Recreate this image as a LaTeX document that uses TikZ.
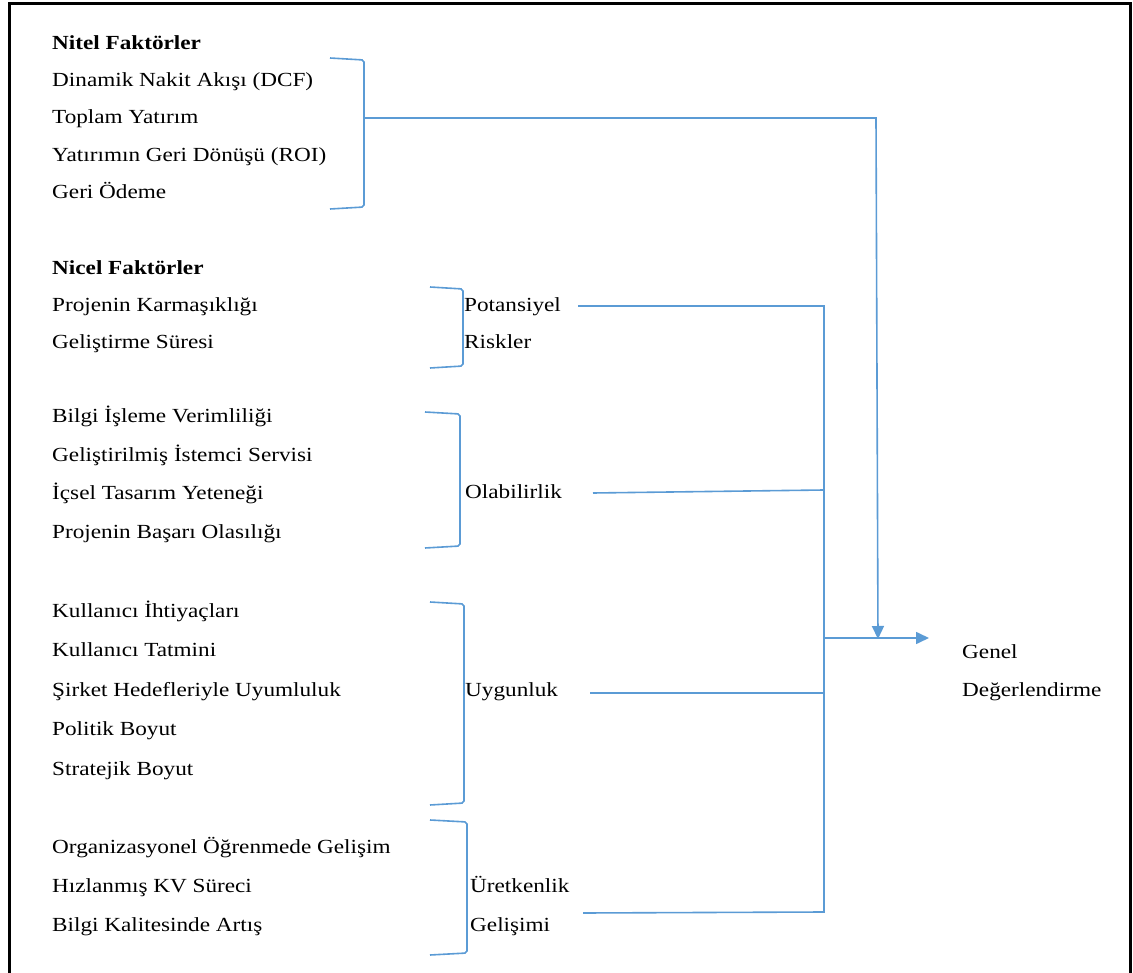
\documentclass[tikz,border=0pt]{standalone}
\usepackage{fontspec}
\setmainfont{Liberation Serif}[FakeStretch=1.16]
\usetikzlibrary{arrows.meta}
\definecolor{linkblue}{RGB}{91,155,213}
\tikzset{
  lbl/.style={anchor=base west, inner sep=0pt, font=\fontsize{20}{22}\selectfont},
  head/.style={lbl, font=\fontsize{20}{22}\selectfont\bfseries},
  brace/.style={draw=linkblue, line width=1.6pt, rounded corners=2pt},
  link/.style={draw=linkblue, line width=1.6pt},
  tip/.style={-{Triangle[length=13pt,width=12pt]}}
}
\begin{document}
\begin{tikzpicture}[x=1pt,y=-1pt]
\useasboundingbox (0,0) rectangle (1133,973);
% frame
\draw[line width=3pt] (9,985) -- (9,4) -- (1130,4) -- (1130,985);

% qualitative factors
\node[head] (nitel) at (52,50) {Nitel Faktörler};
\node[lbl] (dcf) at (52,87) {Dinamik Nakit Akışı (DCF)};
\node[lbl] (top) at (52,124) {Toplam Yatırım};
\node[lbl] (roi) at (52,162) {Yatırımın Geri Dönüşü (ROI)};
\node[lbl] (geri) at (52,199) {Geri Ödeme};
\draw[brace] (330,58) -- (364,60) -- (364,207) -- (330,209);
\coordinate (b1) at (364,118);

% quantitative factors
\node[head] (nicel) at (52,275) {Nicel Faktörler};
\node[lbl] (kar) at (52,312) {Projenin Karmaşıklığı};
\node[lbl] (sure) at (52,349) {Geliştirme Süresi};
\draw[brace] (430,287) -- (463,289) -- (463,366) -- (430,368);
\node[lbl] (pot) at (464,312) {Potansiyel};
\node[lbl] (risk) at (464,349) {Riskler};
\coordinate (c2) at (578,306);

\node[lbl] (bilgi) at (52,423) {Bilgi İşleme Verimliliği};
\node[lbl] (ist) at (52,462) {Geliştirilmiş İstemci Servisi};
\node[lbl] (icsel) at (52,500) {İçsel Tasarım Yeteneği};
\node[lbl] (basari) at (52,538) {Projenin Başarı Olasılığı};
\draw[brace] (425,412) -- (460,414) -- (460,546) -- (425,548);
\node[lbl] (ola) at (465,499) {Olabilirlik};
\coordinate (c3) at (593,493);

\node[lbl] (ihti) at (52,617) {Kullanıcı İhtiyaçları};
\node[lbl] (tat) at (52,656) {Kullanıcı Tatmini};
\node[lbl] (sirket) at (52,696) {Şirket Hedefleriyle Uyumluluk};
\node[lbl] (pol) at (52,735) {Politik Boyut};
\node[lbl] (str) at (52,775) {Stratejik Boyut};
\draw[brace] (430,602) -- (464,604) -- (464,803) -- (430,805);
\node[lbl] (uyg) at (465,696) {Uygunluk};
\coordinate (c4) at (590,693);

\node[lbl] (org) at (52,853) {Organizasyonel Öğrenmede Gelişim};
\node[lbl] (kv) at (52,892) {Hızlanmış KV Süreci};
\node[lbl] (kal) at (52,931) {Bilgi Kalitesinde Artış};
\draw[brace] (430,820) -- (467,822) -- (467,953) -- (430,955);
\node[lbl] (uret) at (470,892) {Üretkenlik};
\node[lbl] (gel) at (470,931) {Gelişimi};
\coordinate (c5) at (583,913);

% result
\node[lbl] (genel) at (962,658) {Genel};
\node[lbl] (deger) at (962,696) {Değerlendirme};

% collector bus
\coordinate (busT) at (824,306);
\coordinate (busB) at (824,912);
\coordinate (busM) at (824,638);
\coordinate (arrR) at (929,638);
\coordinate (turn) at (876,118);
\coordinate (arrD) at (878,639);

\draw[link] (c2) -- (busT) -- (busB) -- (c5);
\draw[link] (c3) -- (824,490);
\draw[link] (c4) -- (824,693);
\draw[link, tip] (busM) -- (arrR);
\draw[link, tip] (b1) -- (turn) -- (arrD);
\end{tikzpicture}
\end{document}
